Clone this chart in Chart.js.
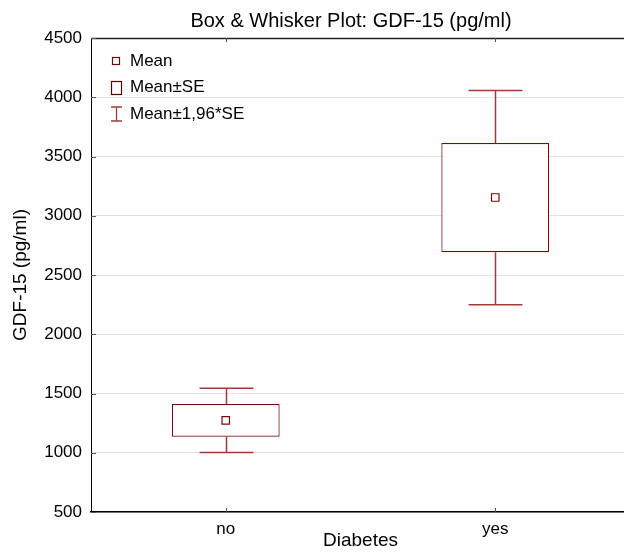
<!DOCTYPE html>
<html><head><meta charset="utf-8">
<script src="https://cdn.jsdelivr.net/npm/chart.js@4/dist/chart.umd.min.js"></script>
<style>
html,body{margin:0;padding:0;overflow:hidden;background:#fff;width:624px;height:552px}
#wrap{width:630px;height:552px;position:relative}
</style></head>
<body><div id="wrap"><canvas id="c" width="630" height="552"></canvas></div>
<script>
// ---- data ----
const titleText = 'Box & Whisker Plot: GDF-15 (pg/ml)';
const xTitle = 'Diabetes';
const yTitle = 'GDF-15 (pg/ml)';
const categories = ['no', 'yes'];
const means  = [1274, 3154];
const seLow  = [1136, 2692];
const seHigh = [1412, 3614];
const ciLow  = [1003, 2249];
const ciHigh = [1544, 4056];
const yTicks = [500, 1000, 1500, 2000, 2500, 3000, 3500, 4000, 4500];
const legendLabels = ['Mean', 'Mean±SE', 'Mean±1,96*SE'];

const RED = '#7d0a0a';
const WHISK = '#a33a3a';
const FONT = "'Liberation Sans', Arial, sans-serif";

const decor = {
  id: 'decor',
  afterDraw(chart) {
    const ctx = chart.ctx, ca = chart.chartArea;
    const xs = chart.scales.x, ys = chart.scales.y;
    ctx.save();
    // top border
    ctx.strokeStyle = '#222'; ctx.lineWidth = 1.5;
    ctx.beginPath(); ctx.moveTo(ca.left, ca.top + 0.5); ctx.lineTo(ca.right, ca.top + 0.5); ctx.stroke();
    // inward ticks
    ctx.strokeStyle = '#555'; ctx.lineWidth = 1;
    ctx.beginPath();
    yTicks.forEach(v => { const y = Math.round(ys.getPixelForValue(v)) + 0.5; ctx.moveTo(ca.left, y); ctx.lineTo(ca.left + 5, y); });
    categories.forEach((c, i) => { const x = Math.round(xs.getPixelForValue(i)) + 0.5;
      ctx.moveTo(x, ca.bottom); ctx.lineTo(x, ca.bottom - 4);
      ctx.moveTo(x, ca.top); ctx.lineTo(x, ca.top + 4); });
    ctx.stroke();
    // whiskers
    const meta = chart.getDatasetMeta(0);
    ctx.strokeStyle = WHISK; ctx.lineWidth = 1.5;
    categories.forEach((c, i) => {
      const x = Math.round(xs.getPixelForValue(i)) + 0.5;
      const half = meta.data[i].width / 4;
      const yt = ys.getPixelForValue(ciHigh[i]), yb = ys.getPixelForValue(ciLow[i]);
      const st = ys.getPixelForValue(seHigh[i]), sb = ys.getPixelForValue(seLow[i]);
      ctx.beginPath();
      ctx.moveTo(x, yt); ctx.lineTo(x, st);
      ctx.moveTo(x, sb); ctx.lineTo(x, yb);
      ctx.moveTo(x - half, yt); ctx.lineTo(x + half, yt);
      ctx.moveTo(x - half, yb); ctx.lineTo(x + half, yb);
      ctx.stroke();
    });
    // title
    ctx.fillStyle = '#000';
    ctx.font = '20px ' + FONT;
    ctx.textAlign = 'center'; ctx.textBaseline = 'alphabetic';
    ctx.fillText(titleText, 351, 27);
    // legend
    ctx.font = '17px ' + FONT;
    ctx.textAlign = 'left'; ctx.textBaseline = 'middle';
    const ly = [61, 87.5, 114];
    legendLabels.forEach((t, i) => ctx.fillText(t, 130, ly[i]));
    ctx.strokeStyle = RED; ctx.lineWidth = 1.2;
    ctx.strokeRect(112.5, 57.5, 7, 7);
    ctx.strokeStyle = '#5a0505';
    ctx.strokeRect(111.5, 81.5, 10, 13);
    ctx.strokeStyle = WHISK; ctx.lineWidth = 1.3;
    ctx.beginPath();
    ctx.moveTo(116.5, 107); ctx.lineTo(116.5, 121);
    ctx.moveTo(111, 107); ctx.lineTo(122, 107);
    ctx.moveTo(111, 121); ctx.lineTo(122, 121);
    ctx.stroke();
    ctx.restore();
  }
};

new Chart(document.getElementById('c'), {
  type: 'bar',
  data: {
    labels: categories,
    datasets: [
      { type: 'bar', order: 2,
        data: categories.map((c, i) => [seLow[i], seHigh[i]]),
        backgroundColor: '#ffffff', borderColor: RED, borderWidth: 1.2, borderSkipped: false,
        barPercentage: 0.4, categoryPercentage: 1.0 },
      { type: 'line', order: 1, data: means, showLine: false,
        pointStyle: 'rect', pointRadius: 5.3, pointBorderWidth: 1.2,
        pointBackgroundColor: '#ffffff', pointBorderColor: RED }
    ]
  },
  options: {
    responsive: false, animation: false, devicePixelRatio: 1,
    layout: { autoPadding: false, padding: { top: 38, right: 0, bottom: 0, left: 0 } },
    plugins: { legend: { display: false }, tooltip: { enabled: false }, title: { display: false } },
    scales: {
      x: {
        grid: { display: false, drawTicks: false },
        border: { display: true, color: '#000', width: 1.5 },
        ticks: { color: '#000', font: { family: FONT, size: 17 }, padding: 7 },
        title: { display: true, text: xTitle, color: '#000', font: { family: FONT, size: 19 }, padding: { top: 0, bottom: 0 } },
        afterFit(s) { s.height = 40; s.paddingLeft = 0; s.paddingRight = 0; }
      },
      y: {
        min: 500, max: 4500,
        afterBuildTicks(s) { s.ticks = yTicks.map(v => ({ value: v })); },
        grid: { color: '#e3e3e3', lineWidth: 1, drawTicks: false },
        border: { display: true, color: '#000', width: 1 },
        ticks: { color: '#000', font: { family: FONT, size: 17 }, padding: 9, callback: v => String(v) },
        title: { display: true, text: yTitle, color: '#000', font: { family: FONT, size: 19 }, padding: { top: 9, bottom: 0 } },
        afterFit(s) { s.width = 91; }
      }
    }
  },
  plugins: [decor]
});
</script>
</body></html>
